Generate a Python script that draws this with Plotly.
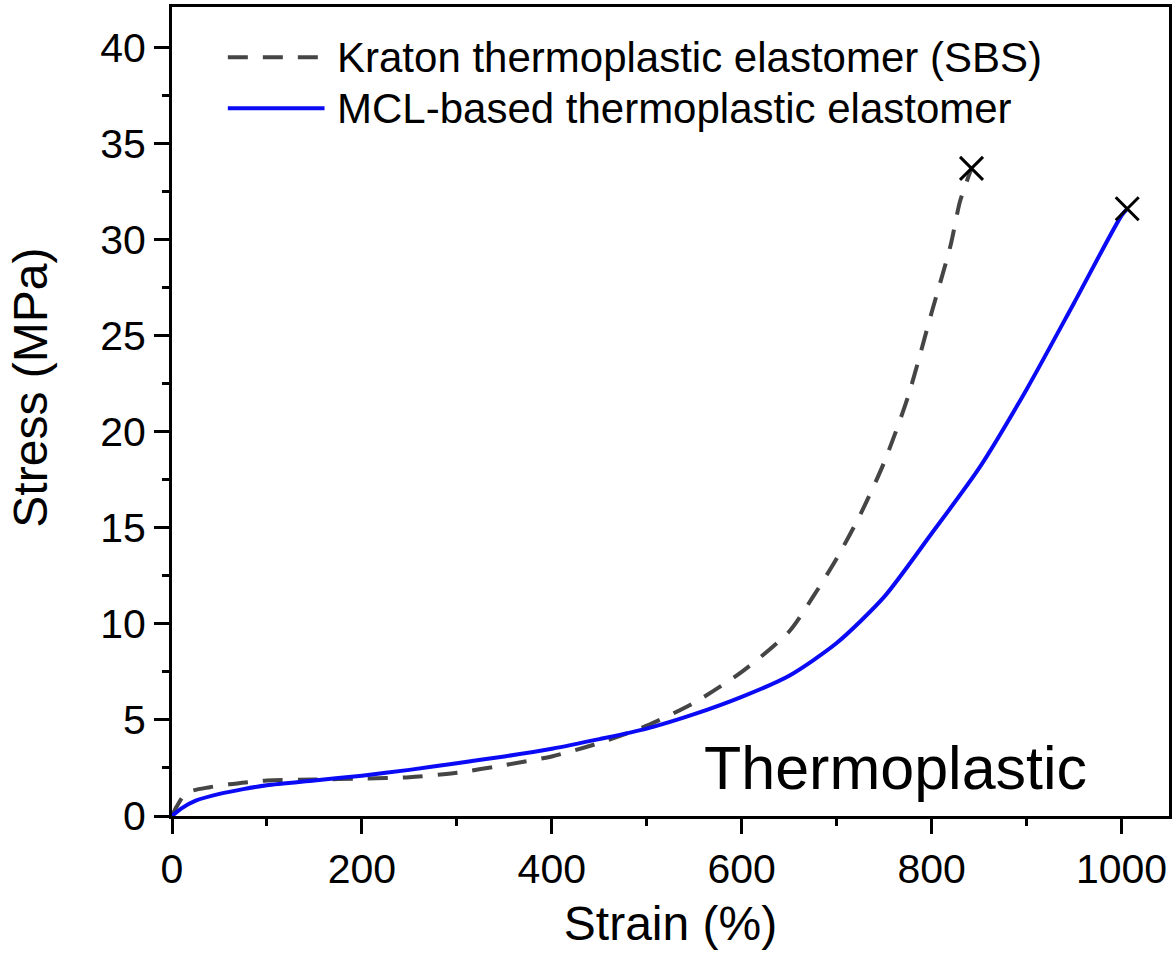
import plotly.graph_objects as go

# Tensile stress-strain data (strain in %, stress in MPa)
kraton_strain = [0, 5, 15, 40, 60, 100, 150, 200, 250, 300, 350, 400, 450, 500,
                 550, 600, 650, 675, 700, 725, 750, 775, 800, 820, 830, 842]
kraton_stress = [0, 0.5, 1.2, 1.5, 1.65, 1.85, 1.9, 1.95, 2.02, 2.25, 2.65, 3.1,
                 3.8, 4.7, 5.9, 7.5, 9.6, 11.4, 13.4, 15.7, 18.4, 21.8, 26.2,
                 29.7, 32.0, 33.7]

mcl_strain = [0, 10, 25, 50, 75, 100, 150, 200, 250, 300, 350, 400, 450, 500,
              550, 600, 650, 700, 750, 800, 850, 900, 950, 1000, 1006]
mcl_stress = [0, 0.4, 0.8, 1.15, 1.4, 1.6, 1.85, 2.1, 2.4, 2.75, 3.1, 3.5, 4.0,
              4.55, 5.3, 6.2, 7.3, 9.0, 11.4, 14.7, 18.1, 22.2, 26.7, 31.25, 31.6]

kraton_name = "Kraton thermoplastic elastomer (SBS)"
mcl_name = "MCL-based thermoplastic elastomer"

FONT = "Liberation Sans, Arial, sans-serif"
DASH_COLOR = "#454545"
BLUE = "#0a0af5"
DASH = "20px,15px"

fig = go.Figure()

fig.add_trace(go.Scatter(
    x=kraton_strain, y=kraton_stress, mode="lines",
    line=dict(color=DASH_COLOR, width=4, dash=DASH, shape="spline", smoothing=0.7),
    showlegend=False))
fig.add_trace(go.Scatter(
    x=mcl_strain, y=mcl_stress, mode="lines",
    line=dict(color=BLUE, width=4, shape="spline", smoothing=0.7),
    showlegend=False))

# Break points marked with a cross
fig.add_trace(go.Scatter(
    x=[kraton_strain[-1], mcl_strain[-1]], y=[kraton_stress[-1], mcl_stress[-1]],
    mode="markers",
    marker=dict(symbol="x-thin", size=23, line=dict(color="black", width=3)),
    showlegend=False))

# Legend drawn as line samples with text
legend_rows = [(kraton_name, DASH_COLOR, DASH, 0.938),
               (mcl_name, BLUE, "solid", 0.875)]
for name, color, dash, yp in legend_rows:
    fig.add_shape(type="line", xref="paper", yref="paper",
                  x0=0.056, x1=0.153, y0=yp, y1=yp,
                  line=dict(color=color, width=4, dash=dash))
    fig.add_annotation(text=name, xref="paper", yref="paper", x=0.163, y=yp,
                       xanchor="left", yanchor="middle", showarrow=False,
                       font=dict(family=FONT, size=42, color="black"))

fig.add_annotation(text="Thermoplastic", x=762, y=2.5, xref="x", yref="y",
                   showarrow=False, xanchor="center", yanchor="middle",
                   font=dict(family=FONT, size=61, color="black"))

# y-axis title
fig.add_annotation(text="Stress (MPa)", xref="paper", yref="paper",
                   x=-0.142, y=0.53, textangle=-90, showarrow=False,
                   xanchor="center", yanchor="middle",
                   font=dict(family=FONT, size=48, color="black"))

axis_common = dict(
    showgrid=False, zeroline=False, showline=True, linecolor="black",
    linewidth=3, mirror=True, ticks="outside", ticklen=15, tickwidth=3,
    tickcolor="black", tickfont=dict(family=FONT, size=41, color="black"),
)

fig.update_xaxes(range=[0, 1050], tick0=0, dtick=200,
                 minor=dict(dtick=100, ticklen=7, tickwidth=3, ticks="outside",
                            tickcolor="black"),
                 title=dict(text="Strain (%)", standoff=16,
                            font=dict(family=FONT, size=48, color="black")),
                 **axis_common)
fig.update_yaxes(range=[0, 42.1], tick0=0, dtick=5,
                 minor=dict(dtick=2.5, ticklen=7, tickwidth=3, ticks="outside",
                            tickcolor="black"),
                 **axis_common)

fig.update_layout(
    width=1175, height=962,
    margin=dict(l=172, r=3, t=7, b=146),
    paper_bgcolor="white", plot_bgcolor="white",
    font=dict(family=FONT, color="black"),
)

fig.write_html("out.html")
